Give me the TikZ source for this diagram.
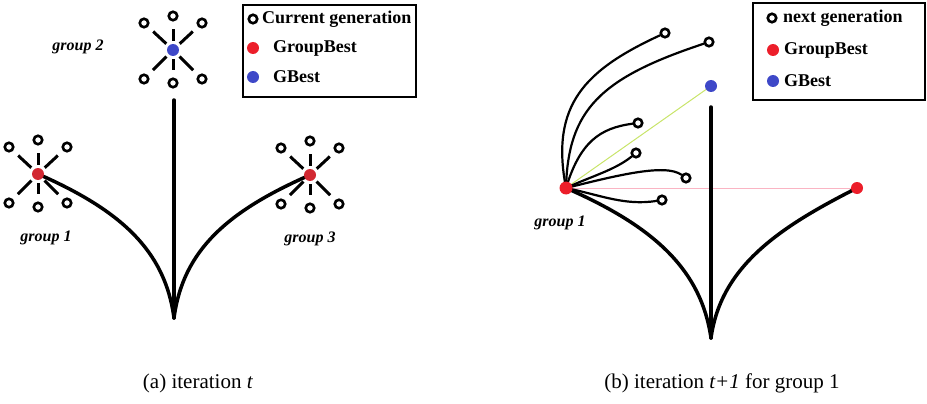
\documentclass[tikz,border=0pt]{standalone}
\usepackage{fontspec}
\setmainfont{Liberation Serif}
\pgfdeclarelayer{bg}
\pgfsetlayers{bg,main}
\definecolor{redA}{RGB}{210,40,50}
\definecolor{redB}{RGB}{236,30,42}
\definecolor{blueG}{RGB}{62,72,200}
\definecolor{pinkL}{RGB}{250,180,195}
\definecolor{limeL}{RGB}{200,228,105}
\tikzset{
  sat/.style={circle,draw=black,line width=2.6pt,fill=white,inner sep=0pt,minimum size=8.5pt},
  bestdot/.style={circle,fill=#1,inner sep=0pt,minimum size=12pt},
  spoke/.style={line width=3pt,shorten <=3pt,shorten >=7pt},
  trunk/.style={line width=3.5pt,line cap=round},
  branch/.style={line width=2.2pt,line cap=round},
  legtext/.style={anchor=west,inner sep=0pt,font=\fontsize{18}{20}\selectfont\bfseries},
  grouplab/.style={inner sep=0pt,font=\fontsize{16}{18}\selectfont\bfseries\itshape},
  caption/.style={inner sep=0pt,font=\fontsize{21}{24}\selectfont},
  legbox/.style={draw=black,line width=1.6pt}
}
\newcommand\swarm[4]{% #1 prefix, #2 x, #3 y, #4 colour
  \node[bestdot=#4] (#1) at (#2,#3) {};
  \begin{scope}[shift={(#2,#3)}]
    \node[sat] (#1t)  at (0,-34) {};
    \node[sat] (#1tl) at (-29,-27) {};
    \node[sat] (#1tr) at (29,-27) {};
    \node[sat] (#1bl) at (-29,29) {};
    \node[sat] (#1b)  at (0,33) {};
    \node[sat] (#1br) at (29,29) {};
  \end{scope}
  \foreach \s in {t,tl,tr,bl,b,br} {\draw[spoke] (#1) -- (#1\s);}
}
\begin{document}
\begin{tikzpicture}[x=1pt,y=-1pt]
\useasboundingbox (0,0) rectangle (927,404);
% ---------------- panel (a)
\swarm{gtwo}{173}{50}{blueG}
\swarm{gone}{38}{174}{redA}
\swarm{gthree}{310}{175}{redA}
\coordinate (trA) at (174,100);
\coordinate (cuA) at (174,318);
\begin{pgfonlayer}{bg}
  \draw[trunk] (trA) -- (cuA);
  \draw[trunk] (gone.center) .. controls (120,210) and (165,250) .. (cuA);
  \draw[trunk] (gthree.center) .. controls (228,211) and (183,250) .. (cuA);
\end{pgfonlayer}
\node[grouplab] (lg2) at (78,47) {group 2};
\node[grouplab] (lg1) at (46,238) {group 1};
\node[grouplab] (lg3) at (310,239) {group 3};
% legend (a)
\node[legbox,minimum width=173pt,minimum height=92pt,inner sep=0pt] (legA) at (329.5,51) {};
\node[sat] (la1) at (253,19) {};
\node[legtext] (lt1) at (262,19) {Current generation};
\node[bestdot=redB] (la2) at (253,48) {};
\node[legtext] (lt2) at (273,48) {GroupBest};
\node[bestdot=blueG] (la3) at (253,77) {};
\node[legtext] (lt3) at (273,77) {GBest};
\node[caption] (capA) at (198,383) {(a) iteration \textit{t}};
% ---------------- panel (b)
\node[bestdot=redB,minimum size=13pt] (gb) at (566,188) {};
\node[bestdot=blueG] (gbest) at (711,86) {};
\node[bestdot=redB] (gr) at (857,188) {};
\coordinate (trB) at (711,107);
\coordinate (cuB) at (711,338);
\node[sat] (n1) at (665,33) {};
\node[sat] (n2) at (709,42) {};
\node[sat] (n3) at (638,123) {};
\node[sat] (n4) at (636,153) {};
\node[sat] (n5) at (686,178) {};
\node[sat] (n6) at (662,200) {};
\begin{pgfonlayer}{bg}
  \draw[pinkL,line width=0.7pt] (gb.center) -- (gr.center);
  \draw[limeL,line width=1pt] (gb.center) -- (gbest.center);
  \draw[trunk] (trB) -- (cuB);
  \draw[trunk] (gb.center) .. controls (653,226) and (701,269) .. (cuB);
  \draw[trunk] (gr.center) .. controls (782,226) and (721,265) .. (cuB);
  \draw[branch] (gb.center) .. controls (550,105) and (585,70) .. (n1);
  \draw[branch] (gb.center) .. controls (568,110) and (600,78) .. (n2);
  \draw[branch] (gb.center) .. controls (580,142) and (600,128) .. (n3);
  \draw[branch] (gb.center) .. controls (592,176) and (615,170) .. (n4);
  \draw[branch] (gb.center) .. controls (615,176) and (665,163) .. (n5);
  \draw[branch] (gb.center) .. controls (600,195) and (625,206) .. (n6);
\end{pgfonlayer}
\node[grouplab] (lgb) at (560,223) {group 1};
% legend (b)
\node[legbox,minimum width=172pt,minimum height=97pt,inner sep=0pt] (legB) at (839,51.5) {};
\node[sat] (lb1) at (772,18) {};
\node[legtext] (lu1) at (783,18) {next generation};
\node[bestdot=redB] (lb2) at (773,50) {};
\node[legtext] (lu2) at (784,50) {GroupBest};
\node[bestdot=blueG] (lb3) at (773,81) {};
\node[legtext] (lu3) at (784,81) {GBest};
\node[caption] (capB) at (722,383) {(b) iteration \textit{t+1} for group 1};
\end{tikzpicture}
\end{document}
